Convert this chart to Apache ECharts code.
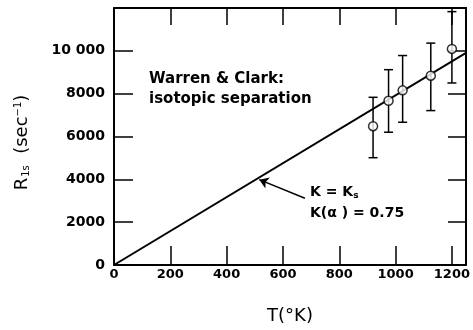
<!DOCTYPE html>
<html>
<head>
<meta charset="utf-8">
<script src="https://cdn.jsdelivr.net/npm/echarts@6/dist/echarts.min.js"></script>
<style>
  html, body { margin: 0; padding: 0; background: #fff; }
  #container { width: 473px; height: 330px; }
</style>
</head>
<body>
<div id="container"></div>
<script>
// data
var temps = [920, 975, 1025, 1125, 1200];
var rates = [6480, 7670, 8155, 8840, 10090];
var errLow = [5010, 6200, 6665, 7210, 8500];
var errHigh = [7830, 9120, 9780, 10360, 11830];
var fitT = [0, 1250];
var fitR = [0, 9900];
var xTicks = [0, 200, 400, 600, 800, 1000, 1200];
var yTicks = [0, 2000, 4000, 6000, 8000, 10000];

var dom = document.getElementById('container');
var myChart = echarts.init(dom);

var font = 'DejaVu Sans';
var points = temps.map(function (t, i) { return [t, rates[i]]; });
var bars = temps.map(function (t, i) { return [t, errLow[i], errHigh[i]]; });
var fit = fitT.map(function (t, i) { return [t, fitR[i]]; });

var option = {
    backgroundColor: '#fff',
    animation: false,
    grid: { left: 114, right: 7, top: 8, bottom: 63.5 },
    xAxis: [
        {
            type: 'value', min: 0, max: 1250, interval: 200,
            name: 'T(°K)', nameLocation: 'middle', nameGap: 42,
            nameTextStyle: { fontFamily: font, fontSize: 18, color: '#000' },
            axisLine: { onZero: false, lineStyle: { color: '#000', width: 2 } },
            axisTick: { inside: true, length: 19, lineStyle: { color: '#000', width: 1.5 } },
            axisLabel: {
                fontFamily: font, fontWeight: 'bold', fontSize: 13, color: '#000', margin: 3,
                formatter: function (v) { return xTicks.indexOf(v) >= 0 ? String(v) : ''; }
            },
            splitLine: { show: false }
        },
        {
            type: 'value', min: 0, max: 1250, interval: 200, position: 'top',
            axisLine: { onZero: false, lineStyle: { color: '#000', width: 2 } },
            axisTick: { inside: true, length: 17, lineStyle: { color: '#000', width: 1.5 } },
            axisLabel: { show: false },
            splitLine: { show: false }
        }
    ],
    yAxis: [
        {
            type: 'value', min: 0, max: 12000, interval: 2000,
            name: '{m|R}{s|1s}{m|  (sec}{p|−1}{m|)}', nameLocation: 'middle', nameGap: 81,
            nameTextStyle: {
                color: '#000', padding: [0, 12, 0, 0],
                rich: {
                    m: { fontFamily: font, fontSize: 18, color: '#000', lineHeight: 22 },
                    s: { fontFamily: font, fontSize: 10, color: '#000', lineHeight: 22, padding: [8, 0, 0, 1] },
                    p: { fontFamily: font, fontSize: 10, color: '#000', lineHeight: 22, padding: [0, 0, 8, 0] }
                }
            },
            axisLine: { onZero: false, lineStyle: { color: '#000', width: 2 } },
            axisTick: { inside: true, length: 19, lineStyle: { color: '#000', width: 1.5 } },
            axisLabel: {
                fontFamily: font, fontWeight: 'bold', fontSize: 14, color: '#000', margin: 9,
                formatter: function (v) {
                    if (yTicks.indexOf(v) < 0) return '';
                    return v >= 10000 ? String(v).replace(/(\d)(\d{3})$/, '$1 $2') : String(v);
                }
            },
            splitLine: { show: false }
        },
        {
            type: 'value', min: 0, max: 12000, interval: 2000, position: 'right',
            axisLine: { onZero: false, lineStyle: { color: '#000', width: 2 } },
            axisTick: { inside: true, length: 18, lineStyle: { color: '#000', width: 1.5 } },
            axisLabel: { show: false },
            splitLine: { show: false }
        }
    ],
    graphic: [
        {
            type: 'text', left: 149, top: 69,
            style: {
                text: 'Warren & Clark:\nisotopic separation',
                font: 'bold 15px "DejaVu Sans"', fill: '#000', lineHeight: 20
            }
        },
        {
            type: 'text', left: 310, top: 182,
            style: {
                text: 'K = K{s|s}\nK(α ) = 0.75',
                font: 'bold 14px "DejaVu Sans"', fill: '#000', lineHeight: 21,
                rich: { s: { font: 'bold 9px "DejaVu Sans"', padding: [6, 0, 0, 0] } }
            }
        }
    ],
    series: [
        {
            name: 'fit', type: 'line', data: fit, showSymbol: false, silent: true,
            lineStyle: { color: '#000', width: 2 },
            markLine: {
                silent: true, symbol: ['none', 'arrow'], symbolSize: 9,
                label: { show: false },
                lineStyle: { color: '#000', width: 1.5, type: 'solid' },
                data: [[{ coord: [678, 3115] }, { coord: [516, 3985] }]]
            }
        },
        {
            name: 'err', type: 'custom', data: bars,
            renderItem: function (params, api) {
                var x = api.value(0);
                var lo = api.coord([x, api.value(1)]);
                var hi = api.coord([x, api.value(2)]);
                var w = 4.5;
                var st = { stroke: '#000', lineWidth: 1.5 };
                return {
                    type: 'group',
                    children: [
                        { type: 'line', shape: { x1: lo[0], y1: lo[1], x2: hi[0], y2: hi[1] }, style: st },
                        { type: 'line', shape: { x1: lo[0] - w, y1: lo[1], x2: lo[0] + w, y2: lo[1] }, style: st },
                        { type: 'line', shape: { x1: hi[0] - w, y1: hi[1], x2: hi[0] + w, y2: hi[1] }, style: st }
                    ]
                };
            },
            z: 3
        },
        {
            name: 'data', type: 'scatter', data: points, symbol: 'circle', symbolSize: 9,
            itemStyle: { color: '#fff', borderColor: '#000', borderWidth: 1.5 },
            z: 4
        }
    ]
};
myChart.setOption(option, true);
</script>
</body>
</html>
